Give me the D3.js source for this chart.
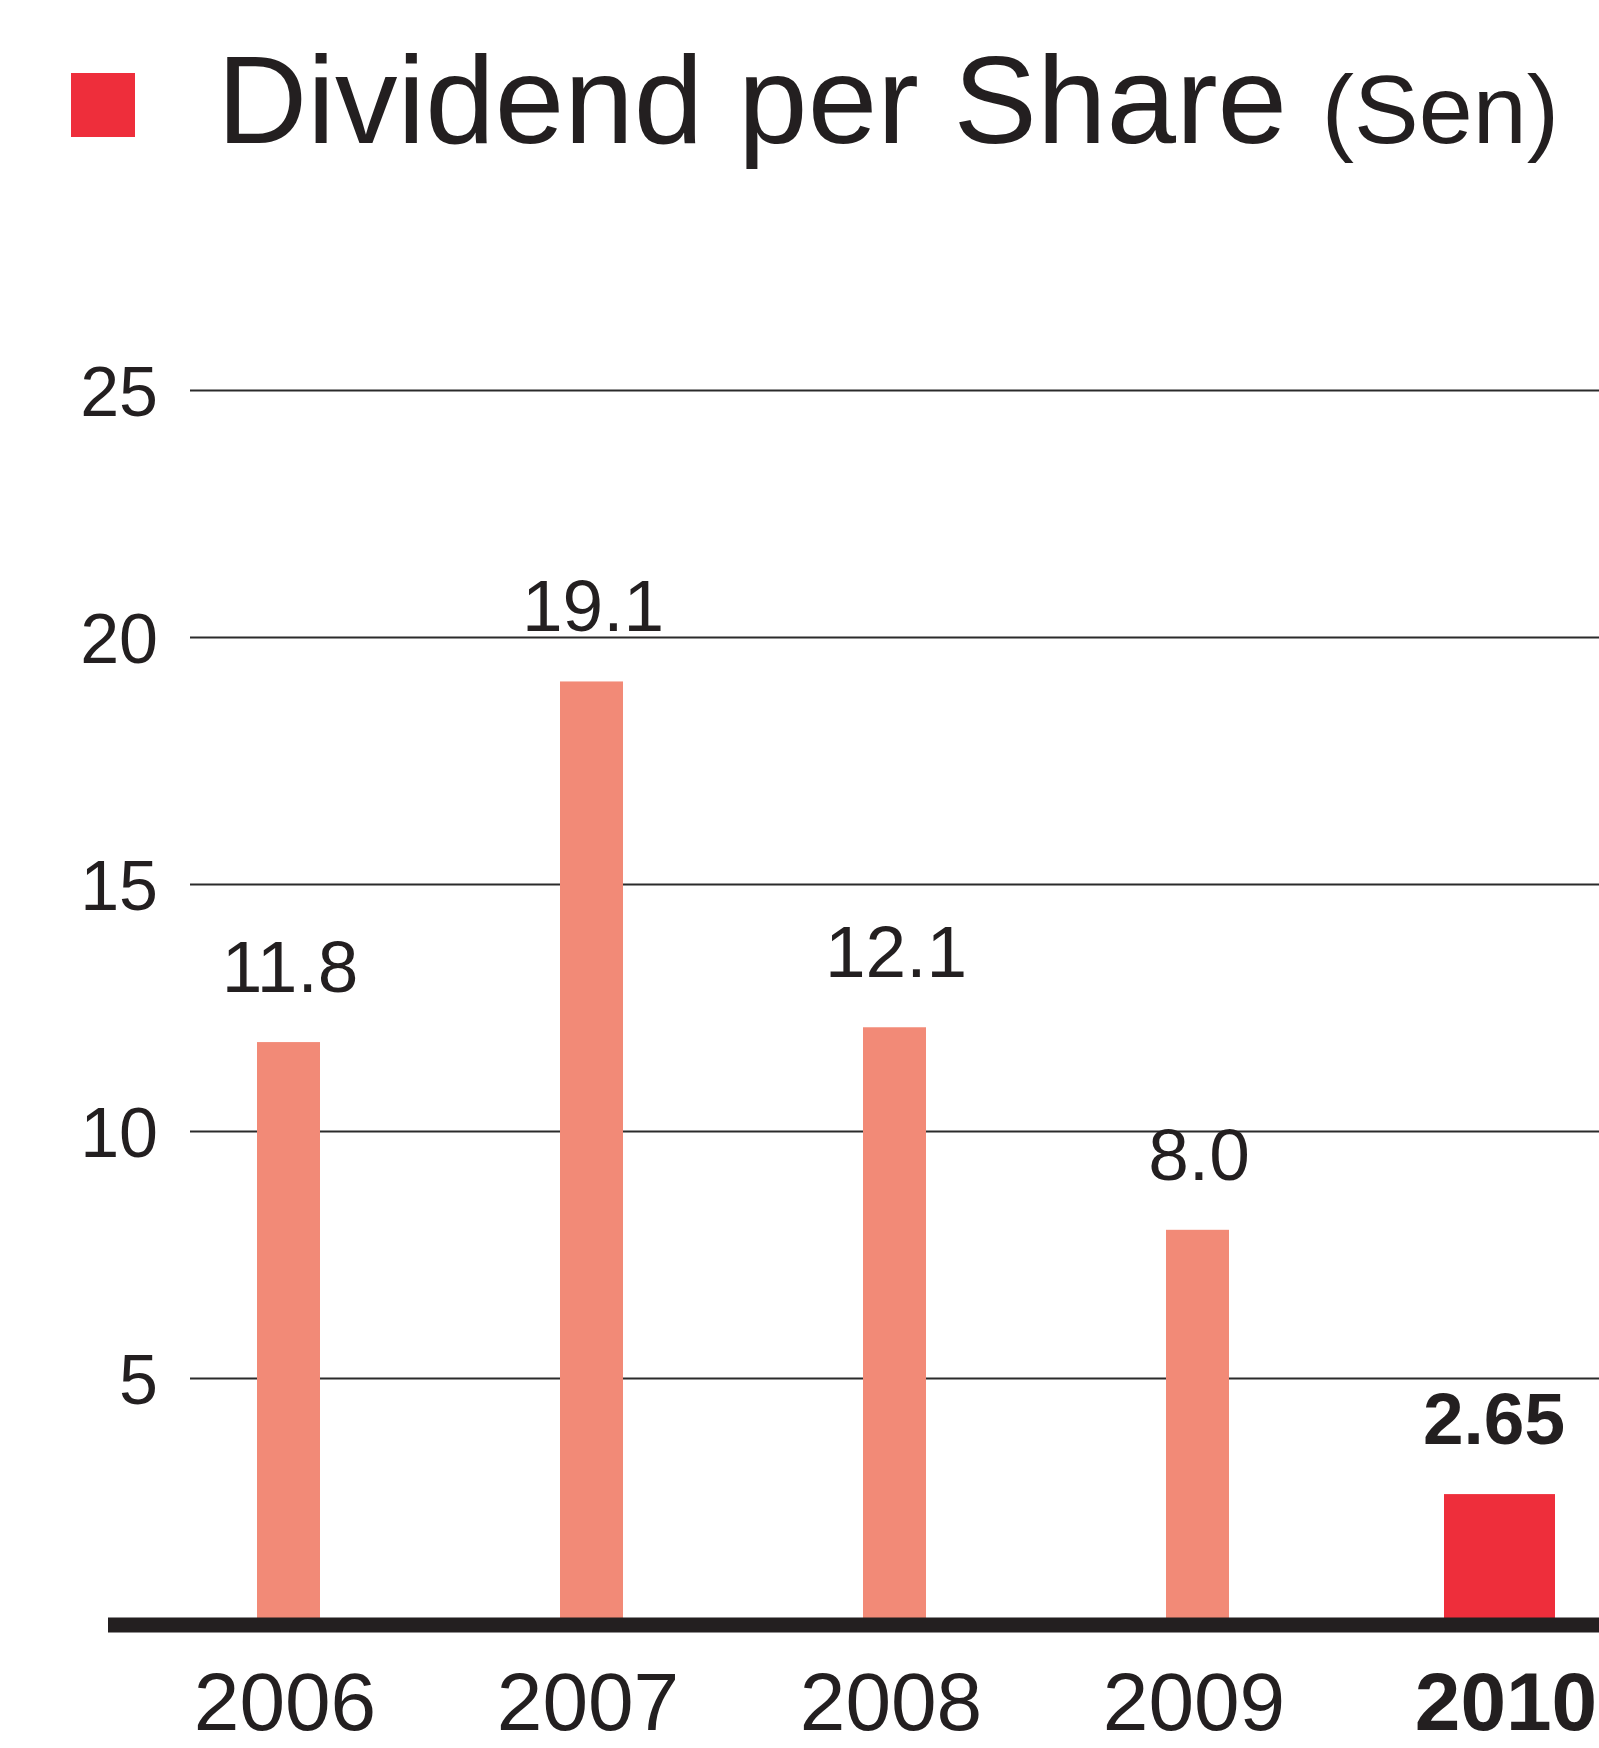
<!DOCTYPE html>
<html lang="en">
<head>
<meta charset="UTF-8">
<title>Dividend per Share</title>
<script src="https://d3js.org/d3.v7.min.js"></script>
<style>
    body { margin: 0; background: #fff; }
    svg { display: block; font-family: "Liberation Sans", Arial, sans-serif; }
    .grid line { stroke: #2b2b2b; stroke-width: 2px; }
    .grid text { font-size: 70px; fill: #231f20; }
</style>
</head>
<body>
<svg></svg>
<script>
    // data
    const years = ["2006", "2007", "2008", "2009", "2010"];
    const dividend = [11.8, 19.1, 12.1, 8.0, 2.65];
    const valueLabels = ["11.8", "19.1", "12.1", "8.0", "2.65"];
    const yTicks = [5, 10, 15, 20, 25];

    const width = 1599, height = 1748;
    const svg = d3.select("svg").attr("width", width).attr("height", height);

    const salmon = "#f28a77", red = "#ee2e3b", ink = "#231f20";

    // scales
    const y = d3.scaleLinear().domain([0, 25]).range([1625, 390]);
    const x = d3.scalePoint().domain(years).range([288, 1500]);
    const isLast = d => d === years[years.length - 1];

    // legend / title
    svg.append("rect")
        .attr("x", 71).attr("y", 73)
        .attr("width", 64).attr("height", 64)
        .attr("fill", red);

    const title = svg.append("text")
        .attr("x", 217).attr("y", 143)
        .attr("fill", ink)
        .style("font-size", "125px");
    title.append("tspan").text("Dividend per Share ");
    title.append("tspan").style("font-size", "97px").text("(Sen)");

    // gridlines + y labels
    svg.append("g")
        .attr("class", "grid")
        .attr("transform", "translate(190,0)")
        .call(d3.axisLeft(y)
            .tickValues(yTicks)
            .tickSizeInner(-(width - 190))
            .tickSizeOuter(0)
            .tickPadding(32)
            .tickFormat(d3.format("d")))
        .call(g => g.select(".domain").remove())
        .call(g => g.selectAll("text").attr("dy", "0.36em"));

    const rows = years.map((yr, i) => ({ year: yr, value: dividend[i], label: valueLabels[i] }));

    // bars
    svg.append("g")
        .selectAll("rect")
        .data(rows)
        .join("rect")
        .attr("x", d => x(d.year) - (isLast(d.year) ? 56 : 31))
        .attr("width", d => isLast(d.year) ? 111 : 63)
        .attr("y", d => y(d.value))
        .attr("height", d => y(0) - y(d.value))
        .attr("fill", d => isLast(d.year) ? red : salmon);

    // baseline
    svg.append("line")
        .attr("x1", 108).attr("x2", width)
        .attr("y1", y(0)).attr("y2", y(0))
        .attr("stroke", ink).attr("stroke-width", 15);

    // value labels
    svg.append("g")
        .selectAll("text")
        .data(rows)
        .join("text")
        .attr("x", d => x(d.year) + (isLast(d.year) ? -6 : 2))
        .attr("y", d => y(d.value) - 50)
        .attr("text-anchor", "middle")
        .attr("fill", ink)
        .style("font-size", "73px")
        .style("font-weight", d => isLast(d.year) ? "bold" : "normal")
        .text(d => d.label);

    // year labels
    svg.append("g")
        .selectAll("text")
        .data(years)
        .join("text")
        .attr("x", d => x(d) + (isLast(d) ? 6 : -3))
        .attr("y", 1730)
        .attr("text-anchor", "middle")
        .attr("fill", ink)
        .style("font-size", "82px")
        .style("font-weight", d => isLast(d) ? "bold" : "normal")
        .text(d => d);
</script>
</body>
</html>
